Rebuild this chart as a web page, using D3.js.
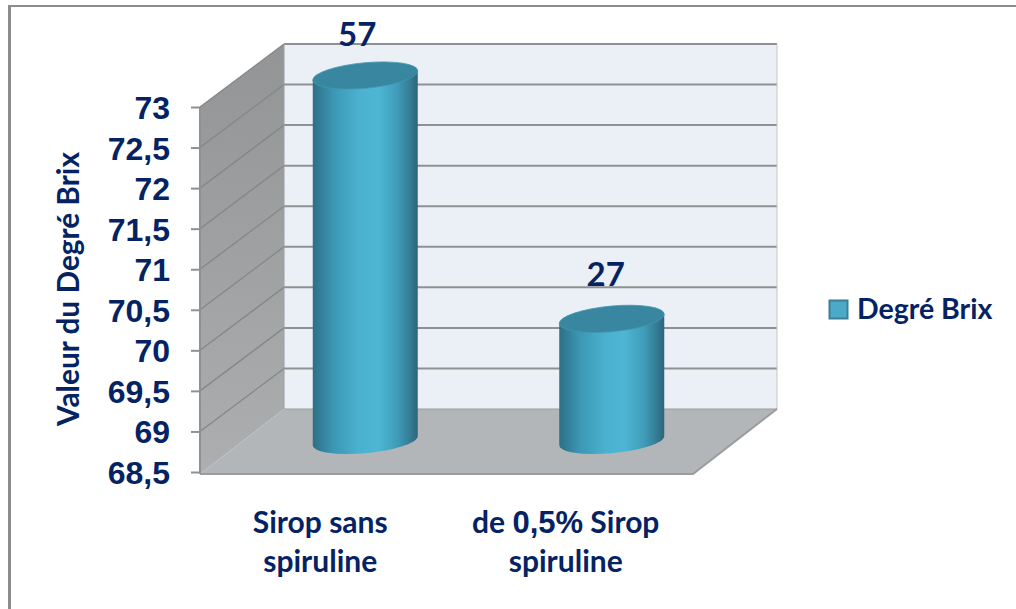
<!DOCTYPE html>
<html>
<head>
<meta charset="utf-8">
<style>
html,body{margin:0;padding:0;background:#fff;overflow:hidden}
svg{display:block}
</style>
<script src="https://cdn.jsdelivr.net/npm/d3@7"></script>
</head>
<body>
<svg id="chart" width="1016" height="609"></svg>
<script>
// Chart content
const categories = ["Sirop sans spiruline", "de 0,5% Sirop spiruline"];
const categoryLines = [["Sirop sans", "spiruline"], [["de ", "0,5%", " Sirop"], "spiruline"]];
const brixValues = [57, 27];
const axisLevels = [73, 70];           // axis height reached by the largest and smallest labelled value
const axisTicks = [68.5, 69, 69.5, 70, 70.5, 71, 71.5, 72, 72.5, 73];
const seriesName = "Degré Brix";
const axisTitle = "Valeur du Degré Brix";

const NAVY = "#052363";
const LATIN = "Lato, 'Open Sans', sans-serif";
const ARIAL = "'Liberation Sans', Arial, sans-serif";

const svg = d3.select("#chart");

// Outer frame: only the top and left edges are visible
svg.append("rect").attr("x", 8).attr("y", 5).attr("width", 1008).attr("height", 2).attr("fill", "#8c8c8c");
svg.append("rect").attr("x", 8).attr("y", 5).attr("width", 3).attr("height", 604).attr("fill", "#8c8c8c");

// Scales on the front plane of the 3D box
const y = d3.scaleLinear().domain([68.5, 73]).range([472, 107]);
const x = d3.scaleBand().domain(categories).range([200, 693]);
const depth = {dx: 84, dy: -63};
const level = d3.scaleLinear().domain([d3.min(brixValues), d3.max(brixValues)]).range([d3.min(axisLevels), d3.max(axisLevels)]);

const xL = x.range()[0], xR = x.range()[1];
const yB = y(68.5), yT = y(73);

// Gradients
const defs = svg.append("defs");
const cyl = defs.append("linearGradient").attr("id", "cyl").attr("x1", 0).attr("x2", 1).attr("y1", 0).attr("y2", 0);
[[0, "#2e6f86"], [0.08, "#337f99"], [0.2, "#3c98b4"], [0.45, "#4ab2d0"], [0.62, "#4db6d4"], [0.8, "#409dba"], [0.92, "#357e97"], [1, "#2d6479"]]
  .forEach(s => cyl.append("stop").attr("offset", s[0]).attr("stop-color", s[1]));
const side = defs.append("linearGradient").attr("id", "side").attr("x1", 0).attr("x2", 0).attr("y1", 0).attr("y2", 1);
[[0, "#929495"], [1, "#acaeb0"]].forEach(s => side.append("stop").attr("offset", s[0]).attr("stop-color", s[1]));

// Box: back wall, left wall, floor
const poly = pts => "M" + pts.map(p => p.join(",")).join("L") + "Z";
svg.append("path")
  .attr("d", poly([[xL + depth.dx, yT + depth.dy], [xR + depth.dx, yT + depth.dy], [xR + depth.dx, yB + depth.dy], [xL + depth.dx, yB + depth.dy]]))
  .attr("fill", "#ebf0f6");
svg.append("path")
  .attr("d", poly([[xL, yT], [xL + depth.dx, yT + depth.dy], [xL + depth.dx, yB + depth.dy], [xL, yB + 2]]))
  .attr("fill", "url(#side)");
svg.append("path")
  .attr("d", poly([[xL, yB + 2], [xL + depth.dx, yB + depth.dy], [xR + depth.dx, yB + depth.dy], [xR, yB + 2]]))
  .attr("fill", "#b3b6b9");

// Gridlines running along the left wall and across the back wall
const gridLine = svg.append("g").attr("fill", "none").attr("stroke", "#8f9091");
axisTicks.slice(1).forEach(t => {
  gridLine.append("path").attr("stroke-width", 1.3).attr("stroke", "#858687")
    .attr("d", `M${xL},${y(t)}L${xL + depth.dx},${y(t) + depth.dy}`);
  gridLine.append("path").attr("stroke-width", 2)
    .attr("d", `M${xL + depth.dx},${y(t) + depth.dy}H${xR + depth.dx}`);
});
svg.append("path").attr("fill", "none").attr("stroke", "#c3c5c7").attr("stroke-width", 1)
  .attr("d", `M${xR + depth.dx},${yT + depth.dy}V${yB + depth.dy}`);
svg.append("path").attr("fill", "none").attr("stroke", "#9a9c9e").attr("stroke-width", 1)
  .attr("d", `M${xL + depth.dx},${yT + depth.dy}V${yB + depth.dy}H${xR + depth.dx}`);
svg.append("path").attr("fill", "none").attr("stroke", "#9a9c9e").attr("stroke-width", 2)
  .attr("d", `M${xL},${yB + 2}H${xR}L${xR + depth.dx},${yB + depth.dy}`);

// Value axis
const axis = d3.axisLeft(y).tickValues(axisTicks).tickSize(9).tickPadding(21)
  .tickFormat(d => String(d).replace(".", ","));
const axisG = svg.append("g").attr("transform", `translate(${xL},0)`).call(axis);
axisG.select(".domain").attr("stroke", "#8f9091").attr("stroke-width", 2).attr("d", `M0,${yT}V${yB + 2}`);
axisG.selectAll(".tick line").attr("stroke", "#8f9091").attr("stroke-width", 2);
axisG.selectAll(".tick text")
  .attr("font-family", ARIAL).attr("font-weight", 700).attr("font-size", 32).attr("fill", NAVY)
  .attr("dy", "0.36em");

// Cylinders stand halfway into the box depth
const rx = 52.5, ry = 12.8, tilt = 4.6;
const barG = svg.selectAll("g.bar").data(categories).join("g").attr("class", "bar")
  .attr("transform", c => `translate(${x(c) + x.bandwidth() / 2 + depth.dx / 2},0)`);

brixValues.forEach((v, i) => {
  const g = d3.select(barG.nodes()[i]);
  const yTop = y(level(v)) + depth.dy / 2;
  const yBase = yB + depth.dy / 2;
  const skew = g.append("g").attr("transform", `matrix(1,${-tilt / rx},0,1,0,0)`);
  skew.append("path")
    .attr("d", `M${-rx},${yTop}V${yBase}A${rx},${ry} 0 0 0 ${rx},${yBase}V${yTop}Z`)
    .attr("fill", "url(#cyl)");
  skew.append("ellipse").attr("cx", 0).attr("cy", yTop).attr("rx", rx).attr("ry", ry)
    .attr("fill", "#38869f").attr("stroke", "#4296b0").attr("stroke-width", 0.8);
  g.append("text").attr("x", i === 0 ? -8 : -6).attr("y", yTop - (i === 0 ? 30 : 33))
    .attr("text-anchor", "middle")
    .attr("font-family", LATIN).attr("font-weight", 700).attr("font-size", 33).attr("fill", NAVY)
    .text(v);
});

// Category labels, on two lines each
categoryLines.forEach((lines, i) => {
  const cx = x(categories[i]) + x.bandwidth() / 2 + (i === 0 ? -3 : -4);
  lines.forEach((line, j) => {
    const t = svg.append("text").attr("x", cx).attr("y", 533 + j * 39)
      .attr("text-anchor", "middle").attr("fill", NAVY)
      .attr("font-family", LATIN).attr("font-weight", 700).attr("font-size", 30);
    if (Array.isArray(line)) {
      line.forEach(part => {
        const s = t.append("tspan").text(part).style("white-space", "pre");
        if (/\d/.test(part)) s.attr("font-family", ARIAL).attr("font-size", 31);
      });
    } else {
      t.text(line);
    }
  });
});

// Axis title
svg.append("text").attr("transform", "translate(79,289) rotate(-90)")
  .attr("text-anchor", "middle").attr("fill", NAVY)
  .attr("font-family", LATIN).attr("font-weight", 700).attr("font-size", 29.8)
  .text(axisTitle);

// Legend
svg.append("rect").attr("x", 829.5).attr("y", 300.5).attr("width", 18).attr("height", 18)
  .attr("fill", "#4aaac7").attr("stroke", "#3b7f96").attr("stroke-width", 2);
svg.append("text").attr("x", 857).attr("y", 319)
  .attr("fill", NAVY).attr("font-family", LATIN).attr("font-weight", 700).attr("font-size", 28.5)
  .text(seriesName);
</script>
</body>
</html>
